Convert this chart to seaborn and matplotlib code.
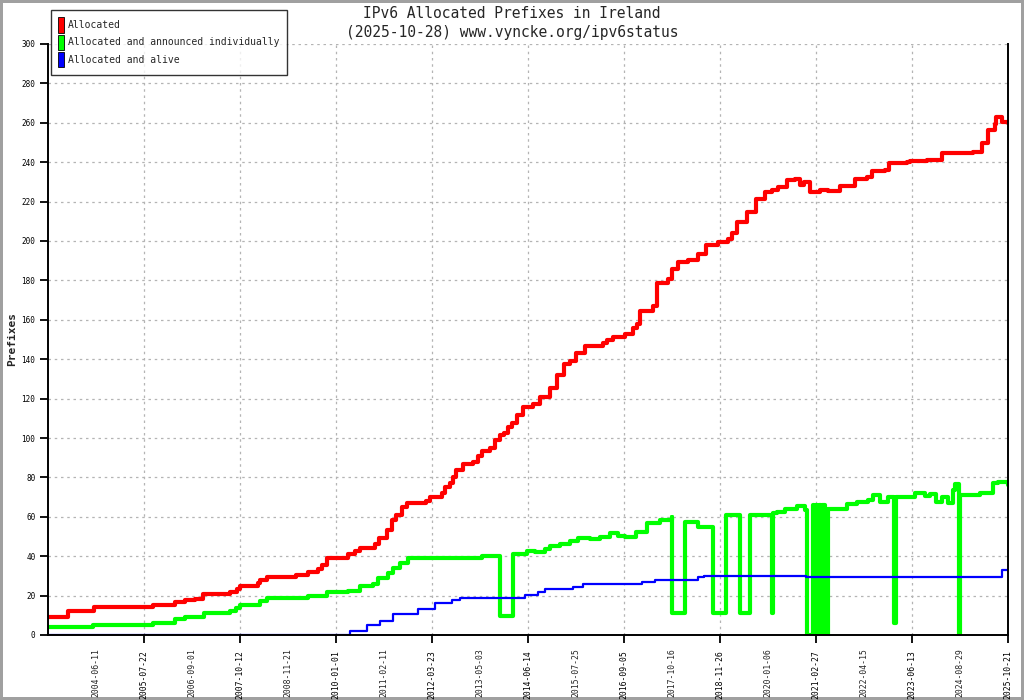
import matplotlib
matplotlib.use("Agg")
import matplotlib.pyplot as plt
import seaborn as sns
import pandas as pd
from matplotlib.patches import Patch

# ---- data (x in tick-index units: 0 = axis start, 1..20 = labelled ticks) ----
tick_labels = ["2004-06-11", "2005-07-22", "2006-09-01", "2007-10-12", "2008-11-21",
               "2010-01-01", "2011-02-11", "2012-03-23", "2013-05-03", "2014-06-14",
               "2015-07-25", "2016-09-05", "2017-10-16", "2018-11-26", "2020-01-06",
               "2021-02-27", "2022-04-15", "2023-06-13", "2024-08-29", "2025-10-21"]

alloc_x = [0.00, 0.42, 0.96, 2.19, 2.65, 2.85, 3.06, 3.23, 3.69, 3.79, 3.94, 4.00, 4.38, 4.42,
           4.56, 5.17, 5.42, 5.63, 5.71, 5.81, 6.25, 6.40, 6.50, 6.81, 6.90, 7.06, 7.16, 7.25,
           7.37, 7.47, 7.88, 7.96, 8.20, 8.27, 8.38, 8.44, 8.51, 8.65, 8.86, 8.96, 9.04, 9.21,
           9.31, 9.42, 9.49, 9.58, 9.66, 9.77, 9.90, 10.11, 10.25, 10.46, 10.60, 10.74, 10.88,
           11.01, 11.19, 11.57, 11.64, 11.78, 12.02, 12.19, 12.27, 12.33, 12.61, 12.68, 12.92,
           12.99, 13.13, 13.34, 13.55, 13.71, 13.96, 14.17, 14.24, 14.35, 14.56, 14.76, 14.94,
           15.08, 15.21, 15.39, 15.56, 15.67, 15.74, 15.83, 15.88, 16.08, 16.26, 16.50, 16.81,
           17.06, 17.16, 17.44, 17.53, 17.89, 17.96, 18.31, 18.62, 19.21, 19.28, 19.45, 19.59,
           19.73, 19.76, 19.87, 20.00]
alloc_y = [9, 12, 14, 15, 16.7, 17.8, 18.5, 20.6, 21, 21.7, 23.5, 24.9, 26.5, 27.9,
           29.6, 30.6, 32, 33.5, 35.5, 39, 41, 42.5, 44, 46, 49, 53.3, 58.4, 61,
           65, 66.8, 68, 70.2, 72, 75, 77, 80, 83.8, 86.8, 88, 91, 93.6, 95,
           99, 101.5, 102.7, 105.5, 107.8, 111.5, 115.9, 117.5, 121, 125.2, 132, 137.6, 139.2,
           143, 146.7, 148, 149.7, 151.4, 153, 155.7, 158, 164.6, 167, 178.8, 180.5,
           186, 189.5, 190.5, 193.4, 198, 199.7, 201, 203.9, 209.8, 214.9, 221.3, 225,
           226, 227.3, 231, 231.5, 228.4, 229.8, 229.8, 224.7, 225.9, 225.5, 227.9, 231.6,
           232.5, 235.7, 236, 239.8, 240, 240.6, 241, 244.8, 244.8, 245.3, 249.6, 256.3,
           259.4, 262.8, 260.6, 259.7]

announced_x = [0.00, 0.94, 2.19, 2.65, 2.85, 3.24, 3.79, 3.92, 4.00, 4.42, 4.56, 5.42, 5.81,
               6.26, 6.50, 6.78, 6.88, 7.09, 7.19, 7.33, 7.51, 9.04, 9.42, 9.68, 9.97, 10.15,
               10.35, 10.46, 10.67, 10.88, 11.05, 11.29, 11.50, 11.71, 11.88, 12.02, 12.26,
               12.47, 12.75, 12.99, 13.01, 13.27, 13.55, 13.86, 14.13, 14.42, 14.63, 15.06,
               15.08, 15.10, 15.18, 15.35, 15.60, 15.77, 15.82, 15.93, 15.96, 16.00, 16.03,
               16.07, 16.10, 16.12, 16.19, 16.24, 16.43, 16.64, 16.85, 17.09, 17.18, 17.33,
               17.51, 17.63, 17.66, 18.06, 18.27, 18.38, 18.51, 18.63, 18.76, 18.86, 18.90,
               18.97, 19.01, 19.42, 19.69, 19.80, 20.00]
announced_y = [4, 5, 6, 8, 9, 11, 12, 13.5, 15.2, 17.1, 18.6, 19.8, 21.7,
               22.5, 24.9, 26, 29, 31.3, 33.8, 36.7, 38.9, 40.1, 9.5, 41.1, 42.8, 42,
               43.5, 45, 46.2, 47.5, 49.1, 48.5, 50, 51.6, 50.5, 49.9, 52.4,
               56.7, 58.4, 59.7, 11, 57.5, 54.7, 11, 60.9, 11, 60.9, 60.9,
               11, 62, 62.6, 64, 65.5, 63.5, 0, 66, 0, 66, 0,
               66, 0, 66, 0, 63.8, 64, 66.3, 67.7, 68.5, 71, 67.7,
               70.2, 5.9, 70.2, 71.9, 70.5, 71.5, 67.7, 70, 66.9, 73.6, 76.6,
               0, 71, 71.9, 77, 77.8, 76.1]

alive_x = [0.00, 6.29, 6.64, 6.92, 7.19, 7.71, 8.06, 8.41, 8.58, 9.94, 10.21, 10.35, 10.93,
           11.15, 12.37, 12.65, 13.55, 13.67, 15.79, 19.87, 20.00]
alive_y = [0, 2, 5.2, 7.1, 10.5, 13.2, 16.4, 17.8, 19, 20.3, 21.7, 23.2, 24.2,
           26, 27.1, 28.1, 29.3, 30.1, 29.3, 33, 33]

series_names = ["Allocated", "Allocated and announced individually", "Allocated and alive"]
series_colors = ["#ff0000", "#00ff00", "#0000ff"]

# ---- figure ----
sns.set_theme(style="white")
plt.rcParams["font.family"] = ["DejaVu Sans Mono", "DejaVu Sans"]

fig = plt.figure(figsize=(10.24, 7.0), dpi=100)
fig.patch.set_facecolor("white")
fig.patch.set_edgecolor("#a0a0a0")
fig.patch.set_linewidth(3)
ax = fig.add_axes([48 / 1024, 1 - 635 / 700, 960 / 1024, 591 / 700])
ax.set_facecolor("white")

frames = [
    pd.DataFrame({"x": alloc_x, "y": alloc_y}),
    pd.DataFrame({"x": announced_x, "y": announced_y}),
    pd.DataFrame({"x": alive_x, "y": alive_y}),
]
widths = [3.0, 3.0, 1.6]
for df, c, w in zip(frames, series_colors, widths):
    sns.lineplot(data=df, x="x", y="y", ax=ax, color=c, linewidth=w,
                 drawstyle="steps-post", estimator=None, sort=False, legend=False)

ax.set_xlim(0, 20)
ax.set_ylim(0, 300)
ax.set_yticks(range(0, 301, 20))
ax.set_yticklabels([str(v) for v in range(0, 301, 20)], fontsize=5.5)

major_pos = list(range(2, 21, 2))
minor_pos = list(range(1, 21, 2))
ax.set_xticks(major_pos, labels=[tick_labels[p - 1] for p in major_pos])
ax.set_xticks(minor_pos, labels=[tick_labels[p - 1] for p in minor_pos], minor=True)
for lab in ax.get_xticklabels(which="both"):
    lab.set_rotation(90)
    lab.set_fontsize(5.9)

ax.tick_params(axis="x", which="major", bottom=True, direction="out", length=6, width=1.3,
               color="black", pad=5)
ax.tick_params(axis="x", which="minor", bottom=True, direction="out", length=0, pad=9.5)
ax.tick_params(axis="y", which="major", left=True, direction="out", length=6, width=1.3,
               color="black", pad=3)
ax.tick_params(axis="both", labelcolor="black")

ax.grid(True, which="major", axis="both", linestyle=(0, (2, 3)), color="#b4b4b4", linewidth=0.9)
ax.set_axisbelow(True)

for s in ["left", "bottom", "right"]:
    ax.spines[s].set_visible(True)
    ax.spines[s].set_color("black")
    ax.spines[s].set_linewidth(1.4)
ax.spines["top"].set_visible(False)

ax.set_xlabel("")
ax.set_ylabel("Prefixes", fontsize=8, fontweight="bold")
ax.yaxis.set_label_coords(-31 / 960, 0.5)

fig.text(0.5, 1 - 13 / 700, "IPv6 Allocated Prefixes in Ireland", ha="center", va="center", fontsize=10.5)
fig.text(0.5, 1 - 32 / 700, "(2025-10-28) www.vyncke.org/ipv6status", ha="center", va="center", fontsize=10.5)

handles = [Patch(facecolor=c, edgecolor="black", linewidth=0.6, label=n)
           for n, c in zip(series_names, series_colors)]
leg = fig.legend(handles=handles, loc="upper left", bbox_to_anchor=(51 / 1024, 1 - 10 / 700),
                 fontsize=7.0, frameon=True, fancybox=False, edgecolor="black",
                 handlelength=0.6, handleheight=2.05, handletextpad=0.4, labelspacing=0.22,
                 borderpad=0.74, borderaxespad=0)
leg.get_frame().set_linewidth(1.0)

fig.savefig("out.png", dpi=100)
